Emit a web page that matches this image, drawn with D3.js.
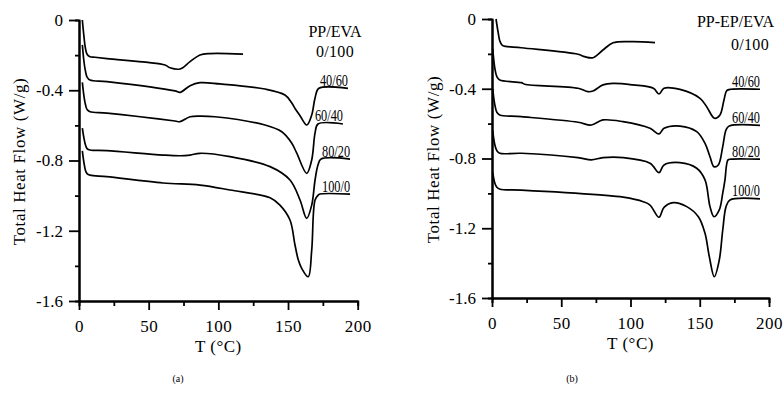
<!DOCTYPE html>
<html>
<head>
<meta charset="utf-8">
<script src="https://cdn.jsdelivr.net/npm/d3@7"></script>
<style>
  body { margin: 0; background: #fff; }
  svg { display: block; font-family: "Liberation Serif", "Times New Roman", serif; }
</style>
</head>
<body>
<div id="chart"></div>
<script>
// DSC curves, T (°C) vs total heat flow (W/g)

// (a) PP/EVA
const a_0_100 = [[2.4,0],[3.5,-0.09],[4.6,-0.16],[5.8,-0.195],[7.9,-0.209],[11.5,-0.212],[20.1,-0.22],[61.7,-0.256],[65.3,-0.272],[72.5,-0.279],[79.7,-0.237],[86.8,-0.199],[94,-0.191],[117.7,-0.194]];
const a_40_60 = [[2.4,-0.142],[3.5,-0.232],[4.6,-0.29],[5.8,-0.325],[7.9,-0.342],[20.1,-0.351],[68.9,-0.404],[72.5,-0.412],[79.7,-0.374],[86.8,-0.357],[101.2,-0.364],[133.5,-0.393],[147.8,-0.427],[152.5,-0.47],[155.5,-0.51],[158.6,-0.545],[163.4,-0.598],[167,-0.541],[169.4,-0.444],[172.2,-0.389],[193,-0.389]];
const a_60_40 = [[2.4,-0.355],[3.5,-0.43],[4.6,-0.48],[5.8,-0.51],[7.9,-0.522],[20.1,-0.53],[68.9,-0.575],[72.5,-0.579],[79.7,-0.551],[86.8,-0.547],[97.6,-0.551],[133.5,-0.598],[145.5,-0.636],[152.6,-0.70],[156.2,-0.757],[163.4,-0.873],[167,-0.797],[169.4,-0.643],[171.5,-0.592],[189.4,-0.592]];
const a_80_20 = [[2.4,-0.615],[3.5,-0.67],[4.6,-0.71],[5.8,-0.732],[7.9,-0.740],[19.9,-0.744],[60.3,-0.769],[72.5,-0.773],[79.7,-0.769],[86.8,-0.759],[108.4,-0.778],[137.1,-0.835],[151.4,-0.911],[158.6,-1.025],[163.4,-1.129],[167,-1.054],[169.4,-0.911],[171.5,-0.826],[173.7,-0.792],[194.5,-0.792]];
const a_100_0 = [[2.4,-0.745],[3.5,-0.81],[4.6,-0.855],[5.8,-0.875],[7.9,-0.883],[19.9,-0.892],[60.3,-0.928],[86.8,-0.940],[108.4,-0.968],[137.1,-1.012],[144.2,-1.054],[151.4,-1.139],[155,-1.281],[157.4,-1.367],[159.8,-1.414],[164.5,-1.462],[167,-1.310],[169.4,-1.025],[171.7,-0.997],[172.9,-0.991],[194.5,-0.991]];

// (b) PP-EP/EVA
const b_0_100 = [[2.9,0],[4.5,-0.08],[5.6,-0.125],[6.8,-0.145],[7.9,-0.153],[21.2,-0.165],[62.1,-0.202],[66.9,-0.216],[72.9,-0.222],[80.1,-0.178],[87.4,-0.136],[101.8,-0.130],[117.7,-0.136]];
const b_40_60 = [[0.5,-0.17],[2,-0.28],[3.5,-0.33],[5.6,-0.35],[21.2,-0.365],[23.6,-0.374],[62.1,-0.397],[69.3,-0.417],[72.9,-0.413],[80.1,-0.378],[87.4,-0.369],[101.8,-0.378],[116.5,-0.397],[120.6,-0.43],[124.2,-0.397],[135.7,-0.404],[150.2,-0.455],[155,-0.503],[160.6,-0.569],[164.6,-0.550],[167.5,-0.464],[169.5,-0.411],[172.6,-0.403],[193.5,-0.403]];
const b_60_40 = [[0.5,-0.40],[2,-0.49],[3.5,-0.535],[5.6,-0.55],[21.2,-0.56],[62.1,-0.592],[71.7,-0.608],[80.1,-0.579],[94.6,-0.589],[114.1,-0.627],[120.6,-0.659],[124.2,-0.627],[135.7,-0.614],[147.8,-0.646],[153.8,-0.713],[157.4,-0.790],[160.3,-0.847],[163.4,-0.837],[166.6,-0.732],[169,-0.636],[171.3,-0.614],[193.5,-0.610]];
const b_80_20 = [[0.5,-0.64],[2,-0.72],[3.5,-0.755],[5.6,-0.77],[21.2,-0.770],[62.1,-0.795],[71.7,-0.808],[80.1,-0.795],[94.8,-0.795],[114.1,-0.827],[120.6,-0.881],[124.2,-0.837],[135.7,-0.824],[147.8,-0.856],[153.8,-0.923],[157.4,-1.076],[160.3,-1.134],[164.1,-1.095],[166.6,-0.999],[168.2,-0.923],[170.4,-0.808],[172.6,-0.804],[193.5,-0.804]];
const b_100_0 = [[0.5,-0.88],[2,-0.94],[3.5,-0.965],[5.8,-0.976],[21.2,-0.981],[78,-1.009],[94.8,-1.022],[109.2,-1.048],[114.1,-1.067],[120.6,-1.137],[124.2,-1.080],[130.9,-1.053],[140.6,-1.076],[149,-1.134],[153.8,-1.229],[156.9,-1.363],[160.5,-1.478],[164.1,-1.382],[166.6,-1.210],[169,-1.076],[171.8,-1.038],[193.5,-1.032]];

const ratioLabels = ["40/60", "60/40", "80/20", "100/0"];
const xMajor = [0, 50, 100, 150, 200];
const xMinor = [25, 75, 125, 175];
const yMajor = [0, -0.4, -0.8, -1.2, -1.6];
const yMinor = [-0.2, -0.6, -1.0, -1.4];

const width = 783, height = 396;

const svg = d3.select("#chart").append("svg")
    .attr("width", width)
    .attr("height", height);

function drawPanel(opt) {
    const x = d3.scaleLinear().domain([0, 200]).range([opt.left, opt.right]);
    const y = d3.scaleLinear().domain([0, -1.6]).range([opt.top, opt.bottom]);
    const g = svg.append("g");

    // minor ticks first, majors (with labels) on top
    g.append("g")
        .attr("transform", `translate(0,${opt.bottom})`)
        .call(d3.axisBottom(x).tickValues(xMinor).tickSize(5).tickFormat(""));
    g.append("g")
        .attr("transform", `translate(${opt.left},0)`)
        .call(d3.axisLeft(y).tickValues(yMinor).tickSize(4).tickFormat(""));

    const xAxis = g.append("g")
        .attr("transform", `translate(0,${opt.bottom})`)
        .call(d3.axisBottom(x).tickValues(xMajor).tickSize(9).tickSizeOuter(0).tickPadding(10));
    g.append("g")
        .attr("transform", `translate(${opt.left},0)`)
        .call(d3.axisLeft(y).tickValues(yMajor).tickSize(10).tickSizeOuter(0).tickPadding(6)
            .tickFormat(d => d === 0 ? "0" : d.toFixed(1)));

    g.selectAll(".domain").attr("stroke", "#000").attr("stroke-width", 2);
    g.selectAll(".tick line").attr("stroke", "#000").attr("stroke-width", 1.8);
    g.selectAll(".tick text")
        .attr("fill", "#000")
        .style("font-family", "'Liberation Serif', 'Times New Roman', serif")
        .style("font-size", "17px");
    xAxis.selectAll(".tick text").style("letter-spacing", "0.5px");

    // axis titles
    g.append("text")
        .attr("x", x(100))
        .attr("y", opt.bottom + 51)
        .attr("text-anchor", "middle")
        .style("font-size", "17px")
        .style("letter-spacing", "0.5px")
        .text("T (°C)");

    g.append("text")
        .attr("transform", `translate(${opt.ylab},${(opt.top + opt.bottom) / 2 + 1}) rotate(-90)`)
        .attr("text-anchor", "middle")
        .style("font-size", "17px")
        .style("letter-spacing", "0.6px")
        .text("Total Heat Flow (W/g)");

    // curves
    const line = d3.line()
        .x(d => x(d[0]))
        .y(d => y(d[1]))
        .curve(d3.curveCatmullRom.alpha(0.5));

    g.selectAll("path.curve")
        .data(opt.series)
        .join("path")
        .attr("class", "curve")
        .attr("fill", "none")
        .attr("stroke", "#000")
        .attr("stroke-width", 1.7)
        .attr("stroke-linejoin", "round")
        .attr("d", line);

    // ratio labels sit on the flat end of each curve
    opt.series.slice(1).forEach((s, i) => {
        const last = s[s.length - 1];
        g.append("text")
            .attr("x", x(last[0]))
            .attr("y", y(last[1]) - 2.5)
            .attr("text-anchor", "end")
            .attr("textLength", 28)
            .attr("lengthAdjust", "spacingAndGlyphs")
            .style("font-size", "17.5px")
            .text(ratioLabels[i]);
    });

    // legend heading
    g.append("text")
        .attr("x", opt.headX)
        .attr("y", opt.headY)
        .attr("text-anchor", "middle")
        .style("font-size", "16px")
        .text(opt.title);
    g.append("text")
        .attr("x", opt.subX)
        .attr("y", opt.subY)
        .attr("text-anchor", "middle")
        .style("font-size", "16px")
        .style("letter-spacing", "0.3px")
        .text("0/100");

    g.append("text")
        .attr("x", opt.tagX)
        .attr("y", 382)
        .attr("text-anchor", "middle")
        .style("font-size", "10px")
        .text(opt.tag);
}

drawPanel({
    left: 79, right: 357.7, top: 20, bottom: 301, ylab: 25,
    series: [a_0_100, a_40_60, a_60_40, a_80_20, a_100_0],
    title: "PP/EVA", headX: 335, headY: 37, subX: 335, subY: 56.5,
    tag: "(a)", tagX: 178
});

drawPanel({
    left: 492, right: 769, top: 19, bottom: 298, ylab: 439,
    series: [b_0_100, b_40_60, b_60_40, b_80_20, b_100_0],
    title: "PP-EP/EVA", headX: 735.5, headY: 26.5, subX: 750, subY: 50,
    tag: "(b)", tagX: 572
});
</script>
</body>
</html>
